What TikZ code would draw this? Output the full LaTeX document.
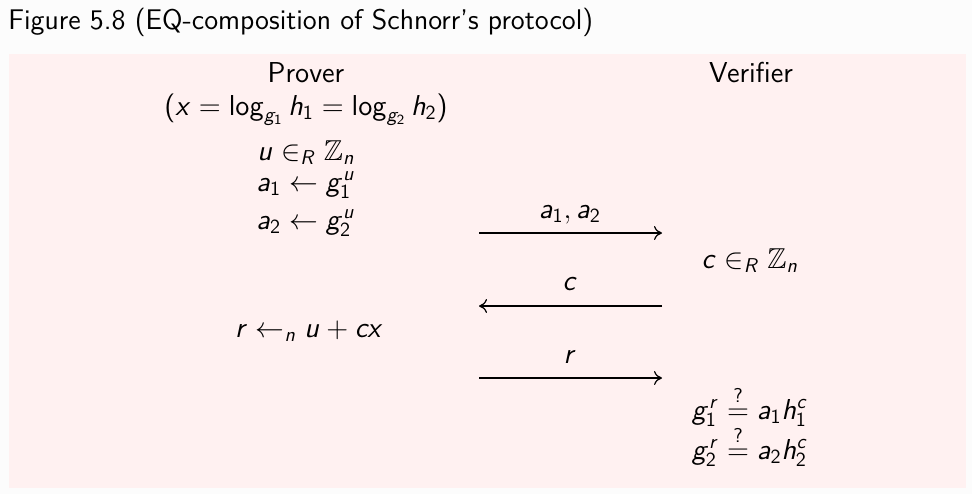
\RequirePackage{fix-cm}
\documentclass[tikz,border=0pt]{standalone}
\usepackage{amssymb}
\usetikzlibrary{arrows.meta}
\DeclareSymbolFont{sfletters}{OT1}{cmss}{m}{sl}
\SetSymbolFont{operators}{normal}{OT1}{cmss}{m}{n}
\DeclareMathSymbol{a}{\mathalpha}{sfletters}{`a}
\DeclareMathSymbol{c}{\mathalpha}{sfletters}{`c}
\DeclareMathSymbol{g}{\mathalpha}{sfletters}{`g}
\DeclareMathSymbol{h}{\mathalpha}{sfletters}{`h}
\DeclareMathSymbol{n}{\mathalpha}{sfletters}{`n}
\DeclareMathSymbol{r}{\mathalpha}{sfletters}{`r}
\DeclareMathSymbol{u}{\mathalpha}{sfletters}{`u}
\DeclareMathSymbol{x}{\mathalpha}{sfletters}{`x}
\DeclareMathSymbol{R}{\mathalpha}{sfletters}{`R}
\definecolor{pinkbg}{HTML}{FFF1F1}
\definecolor{pagebg}{HTML}{FCFCFC}
\tikzset{
  txt/.style={anchor=base, inner sep=0pt, font=\sffamily\fontsize{14.4}{17}\selectfont},
  ttl/.style={anchor=base west, inner sep=0pt, font=\sffamily\fontsize{14.2}{17}\selectfont},
  msg/.style={-{To[length=4pt,width=7pt]}, line width=0.6pt, black}
}
\begin{document}
\begin{tikzpicture}[x=0.5pt, y=-0.5pt]
\fill[pagebg] (0,0) rectangle (972,494);
\useasboundingbox (0,0) rectangle (972,494);
\fill[pinkbg] (9,54) rectangle (966,488);
\node[ttl] (title) at (8,29) {Figure 5.8 (EQ-composition of Schnorr's protocol)};
% Prover column
\node[txt] (prover) at (306,82) {Prover};
\node[txt] (stmt) at (306,115) {$(x = \log_{g_1} h_1 = \log_{g_2} h_2)$};
\node[txt] (u) at (306,160) {$u \in_R \mathbb{Z}_n$};
\node[txt] (a1) at (306,191) {$a_1 \leftarrow g_1^u$};
\node[txt] (a2) at (306,229) {$a_2 \leftarrow g_2^u$};
\node[txt] (resp) at (309,337) {$r \leftarrow_n u + cx$};
% Verifier column
\node[txt] (verifier) at (751,82) {Verifier};
\node[txt] (chal) at (750,268) {$c \in_R \mathbb{Z}_n$};
\node[txt] (chk1) at (750,419) {$g_1^r \stackrel{?}{=} a_1 h_1^c$};
\node[txt] (chk2) at (750,459) {$g_2^r \stackrel{?}{=} a_2 h_2^c$};
% messages
\coordinate (m1l) at (479,233);
\coordinate (m1r) at (662,233);
\coordinate (m2l) at (479,306);
\coordinate (m2r) at (662,306);
\coordinate (m3l) at (479,378);
\coordinate (m3r) at (662,378);
\node[txt] (lab1) at (570,218) {$a_1, a_2$};
\node[txt] (lab2) at (570,290) {$c$};
\node[txt] (lab3) at (570,363) {$r$};
\draw[msg] (m1l) -- (m1r);
\draw[msg] (m2r) -- (m2l);
\draw[msg] (m3l) -- (m3r);
\end{tikzpicture}
\end{document}
